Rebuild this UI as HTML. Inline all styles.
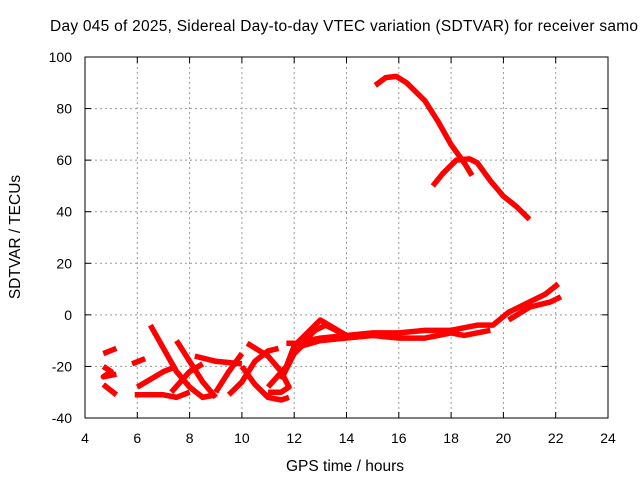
<!DOCTYPE html>
<html><head><meta charset="utf-8"><style>
body{margin:0;background:#fff;}
svg{display:block;font-family:"Liberation Sans",sans-serif;}
</style></head><body>
<svg id="chart" width="640" height="480">
<rect width="640" height="480" fill="#fff"/>
<text x="50" y="31" font-size="15.5" textLength="588" lengthAdjust="spacing" fill="#000">Day 045 of 2025, Sidereal Day-to-day VTEC variation (SDTVAR) for receiver samo</text>
<g id="grid"></g>
<g id="series"></g>
<rect x="85" y="57" width="523" height="361" fill="none" stroke="#000" stroke-width="1"/>
<g id="ticks"></g>
<text x="345" y="471" font-size="15.5" text-anchor="middle">GPS time / hours</text>
<text transform="translate(20,237) rotate(-90)" font-size="15.5" text-anchor="middle">SDTVAR / TECUs</text>
</svg>
<script>
const xTicks=[4,6,8,10,12,14,16,18,20,22,24];
const yTicks=[-40,-20,0,20,40,60,80,100];
const seriesA=[[15.1,89],[15.5,92],[15.9,92.5],[16.3,90],[17,83],[17.5,75],[18,66],[18.5,59],[18.8,54]];
const seriesB=[[17.3,50],[17.7,55],[18.2,60],[18.7,60.5],[19,59],[19.5,52],[20,46],[20.5,42],[21,37]];
const seriesC=[[11.7,-11],[12.3,-11],[12.8,-6],[13.2,-4],[14,-8],[15,-7],[16,-7],[17,-6],[18,-6],[19,-4],[19.6,-4],[20.2,1],[21,5],[21.6,8],[22.1,12]];
const seriesD=[[12.3,-12],[13,-10],[14,-9],[15,-8],[16,-9],[17,-9],[18,-7],[18.5,-8],[19.5,-6]];
const seriesE=[[20.2,-2],[21,3],[21.8,5],[22.2,7]];
const seriesF=[[4.7,-15],[5.2,-13]];
const seriesG=[[4.7,-20],[5.0,-22],[4.7,-24],[5.2,-23]];
const seriesH=[[4.7,-27],[5.2,-31]];
const seriesI=[[5.8,-19],[6.3,-17]];
const seriesJ=[[6.5,-4],[7,-13],[7.5,-22],[8,-28],[8.5,-32],[9,-31]];
const seriesK=[[5.9,-31],[7,-31],[7.5,-32],[8,-30]];
const seriesL=[[6,-28],[6.5,-25],[7,-22],[7.5,-20]];
const seriesM=[[7.5,-10],[8,-18],[8.5,-26],[9,-32]];
const seriesN=[[7.3,-30],[8,-22],[8.5,-19]];
const seriesO=[[8.2,-16],[9,-18],[10,-19]];
const seriesP=[[9,-30],[9.5,-22],[10,-15]];
const seriesQ=[[9.5,-31],[10,-26],[10.5,-18],[11,-14],[11.4,-13]];
const seriesR=[[10.2,-11],[11,-16],[11.5,-22],[11.8,-28],[11.5,-30],[11,-30]];
const seriesS=[[10,-20],[10.5,-27],[11,-32],[11.5,-33],[11.8,-32]];
const seriesT=[[11,-28],[11.7,-20],[12,-12],[12.5,-7],[13,-2],[13.5,-5],[14,-8]];
const seriesU=[[11.5,-25],[12,-15],[12.5,-10],[13,-9],[14,-8]];
const allSeries=[seriesA,seriesB,seriesC,seriesD,seriesE,seriesF,seriesG,seriesH,seriesI,seriesJ,seriesK,seriesL,seriesM,seriesN,seriesO,seriesP,seriesQ,seriesR,seriesS,seriesT,seriesU];

const X0=85,X1=608,Y0=418,Y1=57;
const xs=h=>X0+(h-4)/20*(X1-X0);
const ys=v=>Y0-(v+40)/140*(Y0-Y1);
const NS="http://www.w3.org/2000/svg";
function mk(tag,attrs,parent){const e=document.createElementNS(NS,tag);for(const k in attrs)e.setAttribute(k,attrs[k]);parent.appendChild(e);return e;}
const grid=document.getElementById('grid'),ticks=document.getElementById('ticks'),ser=document.getElementById('series');
xTicks.forEach(t=>{
  const x=xs(t);
  if(t>4&&t<24){const l=mk('line',{x1:x,x2:x,y1:Y1,y2:Y0,stroke:'#999','stroke-dasharray':'2,3'},grid);
  
  }
  mk('line',{x1:x,x2:x,y1:Y0,y2:Y0-6,stroke:'#000'},ticks);
  mk('line',{x1:x,x2:x,y1:Y1,y2:Y1+6,stroke:'#000'},ticks);
  const tx=mk('text',{x:x,y:443,'font-size':14,'text-anchor':'middle'},ticks);
  tx.textContent=t;
  
  
});
yTicks.forEach(t=>{
  const y=ys(t);
  if(t>-40&&t<100){const l=mk('line',{x1:X0,x2:X1,y1:y,y2:y,stroke:'#999','stroke-dasharray':'2,3'},grid);
  
  }
  mk('line',{x1:X0,x2:X0+6,y1:y,y2:y,stroke:'#000'},ticks);
  mk('line',{x1:X1,x2:X1-6,y1:y,y2:y,stroke:'#000'},ticks);
  const tx=mk('text',{x:72,y:y+5,'font-size':14,'text-anchor':'end'},ticks);
  tx.textContent=t;
  
  
});
allSeries.forEach(s=>{
  const p=mk('polyline',{points:s.map(d=>xs(d[0])+','+ys(d[1])).join(' '),fill:'none',stroke:'#f00','stroke-width':5.5,'stroke-linejoin':'round'},ser);
  
  
});
</script>
</body></html>
